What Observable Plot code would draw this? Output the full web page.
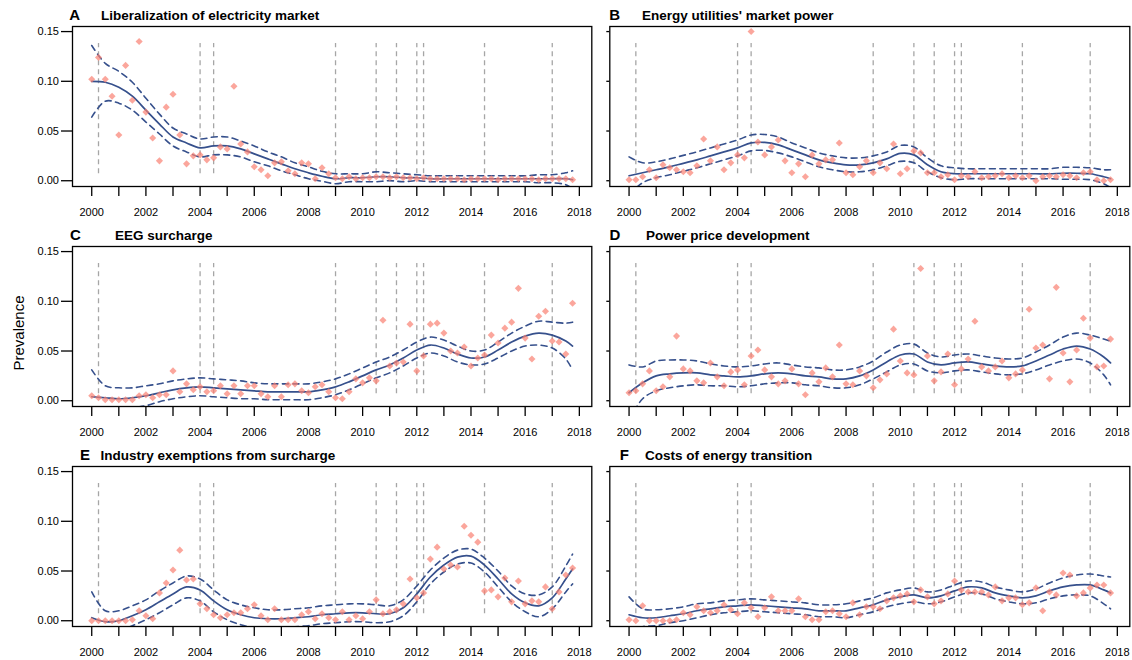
<!DOCTYPE html>
<html>
<head>
<meta charset="utf-8">
<script src="https://cdn.jsdelivr.net/npm/d3@7"></script>
<script src="https://cdn.jsdelivr.net/npm/@observablehq/plot@0.6"></script>
<style>
  html, body { margin: 0; padding: 0; background: #fff; }
  #wrap { position: relative; width: 1132px; height: 660px; overflow: hidden; font-family: "Liberation Sans", Arial, Helvetica, sans-serif; }
  .cell { position: absolute; }
  .cell svg { overflow: visible; }
  #overlay { position: absolute; left: 0; top: 0; pointer-events: none; }
</style>
</head>
<body>
<div id="wrap"></div>
<script>
// ---------------- DATA ----------------
const panelLetters = ["A", "B", "C", "D", "E", "F"];
const panelTitles = [
  "Liberalization of electricity market",
  "Energy utilities' market power",
  "EEG surcharge",
  "Power price development",
  "Industry exemptions from surcharge",
  "Costs of energy transition"
];
const yLabel = "Prevalence";

// quarterly observation times 2000 Q1 ... 2017 Q4
const quarters = d3.range(2000, 2018, 0.25);
// times at which the smooth fit and its band were read
const fitYears = d3.range(2000, 2018, 0.5).concat([2017.75]);
// event dates (vertical dashed lines)
const eventDates = [2000.25, 2004.0, 2004.5, 2009.0, 2010.5, 2011.25, 2012.0, 2012.25, 2014.5, 2017.0];
const yearTicks = d3.range(2000, 2019);
const yTicks = [0, 0.05, 0.10, 0.15];

// observed quarterly prevalence (4 values per year)
const prevA = [
  0.102,0.124,0.102,0.085, 0.046,0.116,0.081,0.140, 0.069,0.043,0.020,0.074,
  0.087,0.046,0.017,0.025, 0.026,0.021,0.023,0.034, 0.032,0.095,0.037,0.029,
  0.014,0.011,0.005,0.018, 0.019,0.010,0.007,0.018, 0.017,0.002,0.013,0.007,
  0.003,0.002,0.004,0.002, 0.003,0.003,0.004,0.004, 0.003,0.004,0.003,0.003,
  0.002,0.003,0.002,0.002, 0.002,0.002,0.002,0.001, 0.002,0.002,0.002,0.002,
  0.001,0.002,0.002,0.002, 0.002,0.002,0.001,0.002, 0.002,0.002,0.002,0.001
];
const prevB = [
  0.001,0.001,0.004,0.011, 0.003,0.016,0.013,0.011, 0.009,0.008,0.015,0.042,
  0.020,0.034,0.011,0.018, 0.026,0.023,0.150,0.039, 0.026,0.034,0.041,0.020,
  0.008,0.017,0.004,0.026, 0.017,0.021,0.021,0.038, 0.008,0.006,0.014,0.020,
  0.008,0.018,0.012,0.037, 0.007,0.012,0.030,0.028, 0.008,0.008,0.004,0.006,
  0.001,0.005,0.004,0.009, 0.003,0.004,0.005,0.007, 0.003,0.005,0.003,0.005,
  0.000,0.004,0.005,0.004, 0.006,0.005,0.003,0.008, 0.009,0.001,0.000,0.001
];
const prevC = [
  0.005,0.003,0.001,0.001, 0.001,0.001,0.001,0.005, 0.006,0.003,0.006,0.006,
  0.030,0.009,0.017,0.011, 0.014,0.009,0.010,0.015, 0.007,0.015,0.007,0.015,
  0.015,0.007,0.004,0.015, 0.004,0.016,0.017,0.010, 0.008,0.014,0.016,0.009,
  0.003,0.002,0.009,0.022, 0.018,0.023,0.020,0.081, 0.035,0.038,0.039,0.077,
  0.030,0.045,0.077,0.078, 0.068,0.050,0.048,0.054, 0.035,0.043,0.046,0.066,
  0.058,0.073,0.079,0.113, 0.063,0.042,0.085,0.090, 0.060,0.059,0.047,0.098
];
const prevD = [
  0.008,0.010,0.017,0.030, 0.010,0.014,0.024,0.065, 0.032,0.030,0.020,0.018,
  0.038,0.024,0.015,0.029, 0.031,0.016,0.045,0.051, 0.031,0.024,0.017,0.020,
  0.032,0.017,0.006,0.028, 0.019,0.033,0.024,0.056, 0.017,0.016,0.030,0.025,
  0.013,0.021,0.027,0.072, 0.040,0.028,0.026,0.133, 0.045,0.020,0.029,0.047,
  0.016,0.032,0.042,0.080, 0.034,0.030,0.034,0.040, 0.023,0.027,0.031,0.092,
  0.053,0.056,0.022,0.114, 0.048,0.019,0.051,0.083, 0.063,0.034,0.035,0.062
];
const prevE = [
  0.000,0.000,0.000,0.000, 0.000,0.000,0.001,0.010, 0.005,0.002,0.028,0.038,
  0.051,0.071,0.041,0.042, 0.017,0.012,0.006,0.003, 0.006,0.008,0.008,0.012,
  0.016,0.005,0.001,0.012, 0.001,0.001,0.001,0.006, 0.009,0.002,0.007,0.003,
  0.001,0.009,0.001,0.005, 0.002,0.009,0.021,0.007, 0.009,0.011,0.017,0.042,
  0.023,0.028,0.062,0.074, 0.052,0.056,0.054,0.095, 0.086,0.079,0.030,0.031,
  0.024,0.043,0.019,0.040, 0.017,0.020,0.019,0.034, 0.012,0.029,0.046,0.053
];
const prevF = [
  0.001,0.000,0.015,0.000, 0.000,0.000,0.000,0.001, 0.008,0.006,0.014,0.010,
  0.008,0.010,0.016,0.011, 0.007,0.018,0.013,0.004, 0.013,0.024,0.010,0.010,
  0.010,0.022,0.004,0.001, 0.001,0.009,0.010,0.007, 0.004,0.018,0.006,0.014,
  0.014,0.012,0.020,0.023, 0.025,0.027,0.019,0.031, 0.024,0.017,0.020,0.027,
  0.040,0.031,0.029,0.029, 0.029,0.026,0.034,0.020, 0.023,0.023,0.016,0.018,
  0.033,0.010,0.029,0.026, 0.048,0.046,0.025,0.028, 0.033,0.036,0.036,0.028
];

// smooth fit (half-yearly, last at 2017.75)
const fitA = [0.100,0.099,0.094,0.085,0.071,0.057,0.044,0.038,0.033,0.035,0.035,0.032,0.027,0.022,0.017,0.012,0.008,0.0045,
  0.002,0.003,0.003,0.004,0.004,0.003,0.003,0.002,0.002,0.002,0.002,0.002,0.002,0.002,0.002,0.002,0.002,0.002,0.001];
const fitB = [0.005,0.008,0.011,0.014,0.0175,0.021,0.025,0.029,0.033,0.038,0.0385,0.036,0.031,0.026,0.021,0.018,0.016,0.016,
  0.018,0.022,0.0275,0.026,0.016,0.009,0.007,0.007,0.007,0.007,0.007,0.007,0.007,0.007,0.0075,0.0075,0.007,0.004,0.002];
const fitC = [0.004,0.003,0.002,0.003,0.005,0.008,0.011,0.013,0.014,0.013,0.012,0.011,0.010,0.009,0.009,0.009,0.009,0.011,
  0.014,0.019,0.025,0.031,0.036,0.043,0.051,0.056,0.053,0.047,0.043,0.044,0.051,0.059,0.065,0.068,0.066,0.060,0.055];
const fitD = [0.008,0.018,0.025,0.027,0.028,0.028,0.026,0.025,0.024,0.025,0.027,0.028,0.027,0.025,0.024,0.022,0.022,0.025,
  0.031,0.039,0.046,0.047,0.039,0.036,0.038,0.039,0.037,0.035,0.034,0.035,0.040,0.046,0.052,0.055,0.052,0.044,0.038];
const fitE = [0.003,-0.001,0.000,0.005,0.011,0.019,0.027,0.034,0.031,0.020,0.011,0.006,0.003,0.002,0.002,0.003,0.004,0.006,
  0.007,0.008,0.008,0.007,0.007,0.013,0.027,0.044,0.056,0.064,0.065,0.056,0.042,0.027,0.018,0.015,0.023,0.042,0.052];
const fitF = [0.006,0.003,0.003,0.005,0.007,0.010,0.012,0.014,0.015,0.016,0.015,0.014,0.013,0.012,0.010,0.010,0.010,0.013,
  0.016,0.021,0.024,0.026,0.023,0.025,0.030,0.034,0.033,0.028,0.025,0.023,0.025,0.030,0.034,0.036,0.036,0.031,0.028];

// half-width of the confidence band at the same times
const seA = [0.036,0.019,0.016,0.014,0.012,0.010,0.009,0.009,0.009,0.009,0.009,0.008,0.008,0.007,0.007,0.006,0.006,0.005,
  0.005,0.004,0.004,0.005,0.004,0.004,0.003,0.003,0.003,0.003,0.003,0.003,0.003,0.003,0.003,0.004,0.004,0.006,0.009];
const seB = [0.019,0.010,0.008,0.008,0.008,0.008,0.008,0.008,0.008,0.008,0.008,0.008,0.007,0.007,0.007,0.007,0.007,0.007,
  0.007,0.007,0.008,0.008,0.007,0.006,0.006,0.005,0.005,0.005,0.005,0.005,0.005,0.005,0.006,0.006,0.006,0.007,0.009];
const seC = [0.027,0.012,0.011,0.010,0.010,0.009,0.009,0.009,0.009,0.009,0.009,0.009,0.008,0.008,0.008,0.008,0.008,0.008,
  0.008,0.008,0.008,0.008,0.008,0.008,0.008,0.008,0.008,0.008,0.007,0.007,0.008,0.009,0.010,0.012,0.013,0.018,0.024];
const seD = [0.028,0.016,0.015,0.014,0.013,0.012,0.011,0.010,0.010,0.010,0.010,0.010,0.009,0.009,0.009,0.009,0.009,0.009,
  0.009,0.010,0.010,0.010,0.009,0.008,0.008,0.008,0.008,0.008,0.008,0.008,0.009,0.010,0.012,0.013,0.014,0.018,0.022];
const seE = [0.026,0.011,0.010,0.010,0.010,0.011,0.011,0.011,0.011,0.011,0.010,0.010,0.010,0.009,0.009,0.009,0.009,0.009,
  0.009,0.009,0.009,0.009,0.008,0.008,0.008,0.007,0.007,0.007,0.007,0.007,0.008,0.008,0.009,0.011,0.011,0.013,0.015];
const seF = [0.018,0.009,0.008,0.007,0.007,0.007,0.006,0.006,0.006,0.006,0.006,0.006,0.006,0.006,0.006,0.006,0.007,0.007,
  0.007,0.007,0.007,0.007,0.006,0.006,0.006,0.006,0.006,0.006,0.006,0.006,0.007,0.008,0.009,0.010,0.011,0.014,0.016];

// ---------------- LAYOUT / STYLE ----------------
const prevs = [prevA, prevB, prevC, prevD, prevE, prevF];
const fits = [fitA, fitB, fitC, fitD, fitE, fitF];
const ses = [seA, seB, seC, seD, seE, seF];

const FONT = '"Liberation Sans", Arial, Helvetica, sans-serif';
const NAVY = "#36508c";
const POINT = "#FA8072";
const GREY = "#a6a6a6";
const letterPos = [[69.3, 101], [609.3, 642], [70, 115], [609.5, 646], [80, 100.5], [619.7, 645]];

const wrap = document.getElementById("wrap");

for (let i = 0; i < 6; i++) {
  const col = i % 2, row = Math.floor(i / 2);
  const pts = quarters.map((q, k) => ({t: q, v: prevs[i][k]}));
  const fit = fitYears.map((t, k) => ({t, v: fits[i][k], lo: fits[i][k] - ses[i][k], hi: fits[i][k] + ses[i][k]}));
  const yAxis = col === 0
    ? Plot.axisY({ticks: yTicks, tickSize: 11, tickPadding: 2.5, tickFormat: d3.format(".2f"), label: null, strokeWidth: 1.3, fontSize: 11})
    : Plot.axisY({ticks: yTicks, tickSize: 3, tickFormat: () => "", label: null, strokeWidth: 1.3});
  const chart = Plot.plot({
    width: col ? 532 : 600,
    height: 220,
    marginLeft: col ? 9.3 : 72,
    marginRight: col ? 2.7 : 8.7,
    marginTop: 26,
    marginBottom: 34,
    x: {domain: [1999.29, 2018.46]},
    y: {domain: [-0.0058, 0.1551]},
    style: {fontFamily: FONT, fontSize: "11px", color: "black", background: "transparent", overflow: "visible"},
    marks: [
      Plot.ruleX(eventDates, {x: d => d, y1: 0.007, y2: 0.138, stroke: GREY, strokeWidth: 1.3, strokeDasharray: "5,4"}),
      Plot.line(fit, {x: "t", y: "lo", curve: "catmull-rom", stroke: NAVY, strokeWidth: 1.6, strokeDasharray: "6,4.5", clip: true}),
      Plot.line(fit, {x: "t", y: "hi", curve: "catmull-rom", stroke: NAVY, strokeWidth: 1.6, strokeDasharray: "6,4.5", clip: true}),
      Plot.line(fit, {x: "t", y: "v", curve: "catmull-rom", stroke: NAVY, strokeWidth: 1.7, clip: true}),
      Plot.dot(pts, {x: "t", y: "v", symbol: "diamond2", r: 3.2, fill: POINT, fillOpacity: 0.7, stroke: null}),
      Plot.frame({stroke: "black", strokeWidth: 1.3}),
      Plot.axisX({ticks: yearTicks, tickSize: 10, tickPadding: 12, tickFormat: d => (d % 2 === 0 ? String(d) : ""), label: null, strokeWidth: 1.3, fontSize: 11}),
      yAxis
    ]
  });
  const cell = document.createElement("div");
  cell.className = "cell";
  cell.style.left = (col ? 600 : 0) + "px";
  cell.style.top = (row * 220) + "px";
  cell.appendChild(chart);
  wrap.appendChild(cell);
}

// titles, panel letters and the shared y label
const ns = "http://www.w3.org/2000/svg";
const ov = document.createElementNS(ns, "svg");
ov.setAttribute("id", "overlay");
ov.setAttribute("width", 1132);
ov.setAttribute("height", 660);
function addText(x, y, str, size, weight, rotate) {
  const t = document.createElementNS(ns, "text");
  t.setAttribute("x", x);
  t.setAttribute("y", y);
  t.setAttribute("font-family", FONT);
  t.setAttribute("font-size", size);
  t.setAttribute("font-weight", weight);
  t.setAttribute("fill", "black");
  if (rotate) {
    t.setAttribute("text-anchor", "middle");
    t.setAttribute("transform", `rotate(-90 ${x} ${y})`);
  }
  t.textContent = str;
  ov.appendChild(t);
}
for (let i = 0; i < 6; i++) {
  const row = Math.floor(i / 2);
  const base = 20 + row * 220;
  addText(letterPos[i][0], base, panelLetters[i], 15, "bold");
  addText(letterPos[i][1], base, panelTitles[i], 13.5, "bold");
}
addText(24, 333, yLabel, 15, "normal", true);
wrap.appendChild(ov);
</script>
</body>
</html>
